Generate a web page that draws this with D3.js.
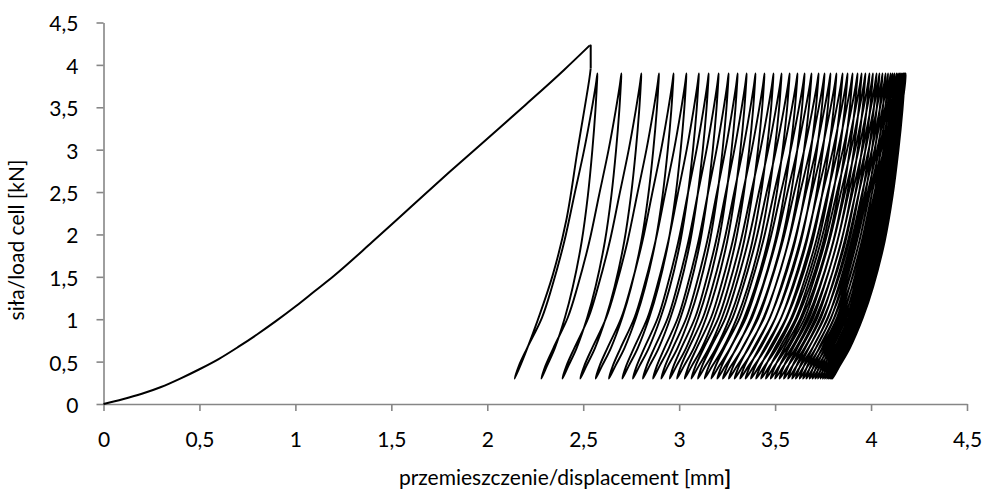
<!DOCTYPE html>
<html>
<head>
<meta charset="utf-8">
<script src="https://cdn.jsdelivr.net/npm/d3@7"></script>
<style>
    body { margin: 0; background: #fff; }
    svg text { font-family: Lato, "Open Sans", sans-serif; fill: #000; }
</style>
</head>
<body>
<script>
// axis ticks (same for both axes)
var tickValues = [0, 0.5, 1, 1.5, 2, 2.5, 3, 3.5, 4, 4.5];
var tickLabels = ["0", "0,5", "1", "1,5", "2", "2,5", "3", "3,5", "4", "4,5"];

// first monotonic loading up to the peak [mm, kN]
var rampX = [0, 0.1, 0.2, 0.3, 0.4, 0.5, 0.6, 0.7, 0.8, 0.9, 1.0, 1.1, 1.2, 1.4, 1.6, 1.8, 2.0, 2.2, 2.4, 2.534];
var rampY = [0, 0.055, 0.12, 0.20, 0.30, 0.41, 0.53, 0.67, 0.82, 0.98, 1.15, 1.33, 1.51, 1.91, 2.32, 2.73, 3.13, 3.53, 3.94, 4.23];

// load drop right after the peak
var dropX = [2.534, 2.539, 2.539];
var dropY = [4.23, 4.23, 3.96];

// first unloading after the drop
var firstUnloadX = [2.539, 2.531, 2.471, 2.412, 2.341, 2.263, 2.195];
var firstUnloadY = [3.96, 3.82, 3.00, 2.17, 1.52, 0.99, 0.58];

// cycles: displacement at minimum load (0,3 kN) and at maximum load (3,9 kN)
var cycleMinX = [2.143, 2.282, 2.392, 2.485, 2.565, 2.634, 2.704, 2.759, 2.811, 2.864,
                 2.907, 2.951, 2.989, 3.029, 3.064, 3.098, 3.133, 3.168, 3.199, 3.228,
                 3.259, 3.289, 3.318, 3.346, 3.374, 3.401, 3.427, 3.452, 3.477, 3.500,
                 3.523, 3.546, 3.568, 3.589, 3.608, 3.628, 3.646, 3.663, 3.680, 3.695,
                 3.710, 3.724, 3.737, 3.749, 3.760, 3.771, 3.780, 3.788, 3.794, 3.799];
var cycleMaxX = [2.574, 2.699, 2.803, 2.895, 2.971, 3.038, 3.103, 3.154, 3.206, 3.258,
                 3.305, 3.352, 3.398, 3.445, 3.492, 3.534, 3.576, 3.617, 3.654, 3.690,
                 3.727, 3.758, 3.789, 3.820, 3.852, 3.878, 3.904, 3.930, 3.951, 3.971,
                 3.992, 4.010, 4.029, 4.044, 4.060, 4.076, 4.089, 4.102, 4.112, 4.122,
                 4.133, 4.141, 4.148, 4.155, 4.161, 4.167, 4.171, 4.174, 4.177, 4.180];

// loop shape: load levels and where each branch sits between its ends (0..1)
var loopLoad   = [0.3, 0.45, 0.66, 1.02, 1.38, 1.92, 2.46, 3.0, 3.47, 3.76, 3.9];
var loadFrac   = [0, 0.05, 0.15, 0.33, 0.45, 0.60, 0.72, 0.84, 0.93, 0.98, 1];
var unloadFrac = [0, 0.10, 0.24, 0.42, 0.56, 0.72, 0.83, 0.91, 0.965, 0.99, 1];

// last, unfinished unloading
var endX = [4.178, 4.160, 4.135, 4.113];
var endY = [3.80, 3.50, 3.20, 2.92];

var margin = { top: 22.5, right: 18, bottom: 87, left: 103.5 }
    , width = 985 - margin.left - margin.right
    , height = 491 - margin.top - margin.bottom;

var svg = d3.select("body").append("svg")
    .attr("width", 985)
    .attr("height", 491)
    .append("g")
    .attr("transform", "translate(" + margin.left + "," + margin.top + ")");

var xScale = d3.scaleLinear().domain([0, 4.5]).range([0, width]);
var yScale = d3.scaleLinear().domain([0, 4.5]).range([height, 0]);

// cyclic part as one point list
var loops = [];
firstUnloadX.forEach(function (x, i) { loops.push([x, firstUnloadY[i]]); });

var n = cycleMinX.length;
for (var i = 0; i < n; i++) {
    var lo = cycleMinX[i], hi = cycleMaxX[i];
    for (var j = 0; j < loopLoad.length; j++) {
        loops.push([lo + loadFrac[j] * (hi - lo), loopLoad[j]]);
    }
    if (i < n - 1) {
        var next = cycleMinX[i + 1];
        for (var j = loopLoad.length - 2; j > 0; j--) {
            loops.push([next + unloadFrac[j] * (hi - next), loopLoad[j]]);
        }
    } else {
        endX.forEach(function (x, k) { loops.push([x, endY[k]]); });
    }
}

// axes
svg.append("g")
    .attr("class", "x axis")
    .attr("transform", "translate(0," + height + ")")
    .call(d3.axisBottom(xScale).tickValues(tickValues).tickSizeInner(7).tickSizeOuter(0).tickPadding(21)
        .tickFormat(function (d, i) { return tickLabels[i]; }));

svg.append("g")
    .attr("class", "y axis")
    .call(d3.axisLeft(yScale).tickValues(tickValues).tickSizeInner(7).tickSizeOuter(0).tickPadding(18)
        .tickFormat(function (d, i) { return tickLabels[i]; }));

svg.selectAll(".axis path, .axis line")
    .attr("stroke", "#868686")
    .attr("stroke-width", 1.6);
svg.selectAll(".axis text")
    .attr("font-size", 21)
    .attr("font-family", "Lato, sans-serif")
    .attr("fill", "#000");
svg.selectAll(".y.axis text").attr("dy", "0.40em");

function xy(d) { return [xScale(d[0]), yScale(d[1])]; }

// ramp (smooth), drop (straight), cycles (smooth)
svg.append("path")
    .datum(rampX.map(function (x, i) { return [x, rampY[i]]; }))
    .attr("fill", "none")
    .attr("stroke", "#000")
    .attr("stroke-width", 2)
    .attr("d", d3.line().x(function (d) { return xScale(d[0]) }).y(function (d) { return yScale(d[1]) })
        .curve(d3.curveMonotoneX));

svg.append("path")
    .datum(dropX.map(function (x, i) { return [x, dropY[i]]; }))
    .attr("fill", "none")
    .attr("stroke", "#000")
    .attr("stroke-width", 2)
    .attr("stroke-linejoin", "round")
    .attr("d", d3.line().x(function (d) { return xScale(d[0]) }).y(function (d) { return yScale(d[1]) }));

svg.append("path")
    .datum(loops)
    .attr("fill", "none")
    .attr("stroke", "#000")
    .attr("stroke-width", 1.9)
    .attr("stroke-linejoin", "round")
    .attr("d", d3.line().x(function (d) { return xScale(d[0]) }).y(function (d) { return yScale(d[1]) })
        .curve(d3.curveCatmullRom.alpha(0.5)));

// axis titles
var xTitle = svg.append("text")
    .attr("x", 565 - margin.left)
    .attr("y", height + 81)
    .attr("text-anchor", "middle")
    .attr("font-size", 21);
xTitle.append("tspan").text("przemieszczenie/displacement [mm");
xTitle.append("tspan").attr("font-weight", "bold").text("]");

svg.append("text")
    .attr("transform", "translate(" + (24 - margin.left) + "," + (240 - margin.top) + ") rotate(-90)")
    .attr("text-anchor", "middle")
    .attr("font-size", 21)
    .text("siła/load cell [kN]");
</script>
</body>
</html>
